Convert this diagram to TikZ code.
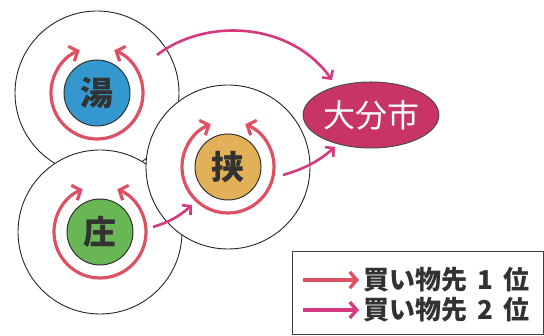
\documentclass[tikz,border=0pt]{standalone}
\usepackage{fontspec}
\newfontfamily\jp{Noto Sans CJK JP}
\usetikzlibrary{arrows.meta,shapes.geometric}
\definecolor{firstc}{RGB}{222,80,100}
\definecolor{secondc}{RGB}{212,58,128}
\definecolor{oitac}{RGB}{200,52,100}
\definecolor{bluec}{RGB}{52,152,206}
\definecolor{greenc}{RGB}{104,182,84}
\definecolor{orangec}{RGB}{226,176,86}
\definecolor{txtc}{RGB}{50,50,50}
\tikzset{
  area/.style={circle,draw=black!85,line width=0.9pt,fill=white,minimum size=164pt,inner sep=0pt},
  town/.style={circle,draw=black!80,line width=1pt,minimum size=66pt,inner sep=0pt,font=\jp\bfseries\fontsize{33}{33}\selectfont,text=txtc},
  loop/.style={draw=firstc,line width=3.2pt,-{Straight Barb[length=7pt,width=16pt,line width=3.2pt]}},
  flow/.style={draw=secondc,line width=2.6pt,-{Straight Barb[length=6pt,width=13pt,line width=2.6pt]}},
  legarrow/.style={line width=3.6pt,-{Straight Barb[length=7pt,width=16pt,line width=3.4pt]}},
  legtext/.style={anchor=west,font=\jp\bfseries\fontsize{26}{26}\selectfont,text=txtc,inner sep=0pt}
}
\begin{document}
\begin{tikzpicture}[x=1pt,y=1pt]
\useasboundingbox (0,0) rectangle (544,336);
\fill[white] (0,0) rectangle (544,336);
% big areas
\node[area] (yuA) at (97,243) {};
\node[area] (shoA) at (100,104) {};
\node[area] (kyoA) at (228,169) {};
% towns
\node[town,fill=bluec] (yu) at (97,243) {湯};
\node[town,fill=greenc] (sho) at (100,104) {庄};
\node[town,fill=orangec] (kyo) at (228,169) {挟};
% loops (1st)
\foreach \c in {yu,sho,kyo}{
  \draw[loop] ([shift={(270:46pt)}]\c.center) arc[start angle=270,end angle=112,radius=46pt];
  \draw[loop] ([shift={(270:46pt)}]\c.center) arc[start angle=-90,end angle=68,radius=46pt];
}
% Oita
\node[ellipse,draw=black!70,line width=1pt,fill=oitac,minimum width=132pt,minimum height=66pt,inner sep=0pt,text=white,font=\jp\fontsize{32}{32}\selectfont] (oita) at (371,221) {大分市};
% flows (2nd)
\coordinate (yuOut) at (157,281);
\coordinate (oitaIn1) at (332,256);
\coordinate (kyoOut) at (283,161);
\coordinate (oitaIn2) at (335,189);
\coordinate (shoOut) at (153,109);
\coordinate (kyoIn) at (192,131);
\draw[flow] (yuOut) .. controls (205,318) and (290,315) .. (oitaIn1);
\draw[flow] (kyoOut) to[bend right=12] (oitaIn2);
\draw[flow] (shoOut) to[bend right=12] (kyoIn);
% legend
\node[draw=black!75,line width=1pt,fill=white,minimum width=251pt,minimum height=83pt,inner sep=0pt,anchor=south west] (legend) at (292,1) {};
\coordinate (l1a) at (303,56);
\coordinate (l1b) at (359,56);
\coordinate (l2a) at (303,26);
\coordinate (l2b) at (359,26);
\draw[legarrow,draw=firstc] (l1a) -- (l1b);
\draw[legarrow,draw=secondc] (l2a) -- (l2b);
\node[legtext] (t1) at (363,56) {買い物先\hspace{10pt}1\hspace{10pt}位};
\node[legtext] (t2) at (363,26) {買い物先\hspace{10pt}2\hspace{10pt}位};
\end{tikzpicture}
\end{document}
